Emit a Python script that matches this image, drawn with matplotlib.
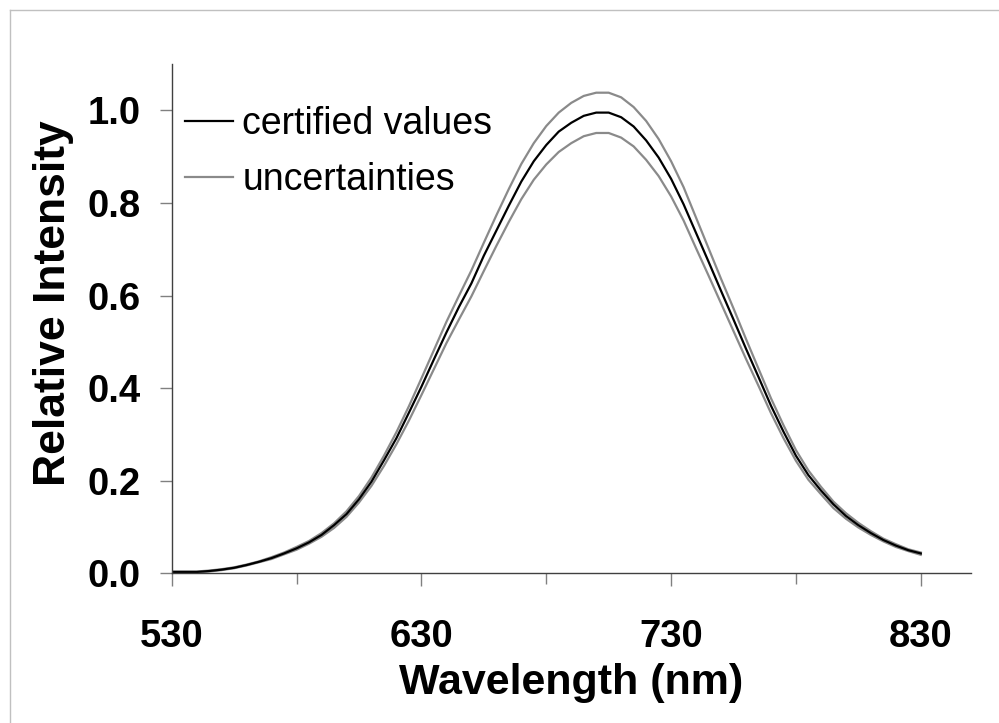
import matplotlib
matplotlib.use('Agg')
import matplotlib.pyplot as plt
from matplotlib.lines import Line2D
from matplotlib.ticker import FixedLocator

plt.rcParams['font.family'] = ['Liberation Sans', 'DejaVu Sans']

# 波長 (nm)
wavelength = [530, 535, 540, 545, 550, 555, 560, 565, 570, 575,
              580, 585, 590, 595, 600, 605, 610, 615, 620, 625,
              630, 635, 640, 645, 650, 655, 660, 665, 670, 675,
              680, 685, 690, 695, 700, 705, 710, 715, 720, 725,
              730, 735, 740, 745, 750, 755, 760, 765, 770, 775,
              780, 785, 790, 795, 800, 805, 810, 815, 820, 825, 830]

# 認証値
certified = [0.003, 0.003, 0.003, 0.005, 0.008, 0.012, 0.018, 0.025, 0.033, 0.043,
             0.054, 0.067, 0.083, 0.104, 0.128, 0.160, 0.198, 0.244, 0.292, 0.347,
             0.403, 0.462, 0.520, 0.575, 0.626, 0.686, 0.740, 0.794, 0.846, 0.890,
             0.925, 0.954, 0.973, 0.988, 0.995, 0.995, 0.985, 0.965, 0.935, 0.898,
             0.852, 0.797, 0.735, 0.673, 0.610, 0.548, 0.485, 0.424, 0.362, 0.306,
             0.254, 0.212, 0.179, 0.149, 0.124, 0.104, 0.087, 0.072, 0.060, 0.050, 0.043]

# 不確かさ（上限・下限）
upper = [0.004, 0.004, 0.004, 0.006, 0.009, 0.013, 0.019, 0.026, 0.035, 0.045,
         0.057, 0.070, 0.087, 0.108, 0.134, 0.167, 0.207, 0.254, 0.305, 0.361,
         0.421, 0.482, 0.543, 0.599, 0.654, 0.714, 0.773, 0.830, 0.884, 0.929,
         0.966, 0.995, 1.016, 1.031, 1.038, 1.038, 1.028, 1.007, 0.977, 0.938,
         0.890, 0.834, 0.768, 0.702, 0.636, 0.572, 0.506, 0.442, 0.378, 0.320,
         0.266, 0.222, 0.187, 0.155, 0.130, 0.109, 0.091, 0.075, 0.063, 0.052, 0.045]
lower = [0.002, 0.002, 0.002, 0.004, 0.007, 0.011, 0.017, 0.024, 0.031, 0.041,
         0.051, 0.064, 0.079, 0.098, 0.122, 0.153, 0.189, 0.232, 0.279, 0.330,
         0.385, 0.441, 0.497, 0.548, 0.598, 0.653, 0.707, 0.759, 0.808, 0.850,
         0.883, 0.910, 0.929, 0.944, 0.951, 0.951, 0.941, 0.922, 0.893, 0.858,
         0.814, 0.762, 0.702, 0.643, 0.583, 0.523, 0.463, 0.405, 0.346, 0.292,
         0.243, 0.202, 0.171, 0.141, 0.118, 0.099, 0.083, 0.069, 0.057, 0.048, 0.040]

x_labels = [530, 630, 730, 830]
x_minor = [580, 680, 780]
y_ticks = [0.0, 0.2, 0.4, 0.6, 0.8, 1.0]

fig = plt.figure(figsize=(9.99, 7.23), dpi=100)
ax = fig.add_axes([0.1719, 0.207, 0.7998, 0.7045])

gray = '#8a8a8a'
ax.plot(wavelength, upper, color=gray, linewidth=1.6)
ax.plot(wavelength, lower, color=gray, linewidth=1.6)
ax.plot(wavelength, certified, color='black', linewidth=1.6)

ax.set_xlim(530, 850)
ax.set_ylim(0, 1.1)

ax.xaxis.set_major_locator(FixedLocator(x_labels))
ax.xaxis.set_minor_locator(FixedLocator(x_minor))
ax.set_yticks(y_ticks)
ax.set_yticklabels([f'{v:.1f}' for v in y_ticks])

for side in ['top', 'right']:
    ax.spines[side].set_visible(False)
for side in ['left', 'bottom']:
    ax.spines[side].set_color('#404040')
    ax.spines[side].set_linewidth(1.0)

ax.tick_params(axis='x', which='major', direction='out', length=9.4, width=1.0,
               color='#808080', pad=23.5, labelsize=27.5)
ax.tick_params(axis='x', which='minor', direction='out', length=8, width=1.0,
               color='#808080')
ax.tick_params(axis='y', direction='out', length=8.6, width=1.0,
               color='#808080', pad=14, labelsize=27.5)
for lab in ax.get_xticklabels() + ax.get_yticklabels():
    lab.set_fontweight('bold')

ax.set_xlabel('Wavelength (nm)', fontsize=31, fontweight='bold')
ax.set_ylabel('Relative Intensity', fontsize=32, fontweight='bold')
ax.xaxis.set_label_coords(0.5, -0.176)
ax.yaxis.set_label_coords(-0.1225, 0.531)

# 凡例
h1 = Line2D([], [], color='black', linewidth=1.6)
h2 = Line2D([], [], color=gray, linewidth=1.6)
ax.legend([h1, h2], ['certified values', 'uncertainties'], loc='upper left',
          bbox_to_anchor=(0.0166, 0.918), frameon=False, fontsize=27,
          handlelength=1.27, handletextpad=0.26, labelspacing=0.55,
          borderpad=0, borderaxespad=0)

# 外枠（左と上のみ）
fig.add_artist(Line2D([10 / 999, 10 / 999], [0, 1 - 10 / 723], color='#c0c0c0',
                      linewidth=1.0, transform=fig.transFigure))
fig.add_artist(Line2D([10 / 999, 1], [1 - 10 / 723, 1 - 10 / 723], color='#c0c0c0',
                      linewidth=1.0, transform=fig.transFigure))

fig.savefig('out.png', dpi=100)
